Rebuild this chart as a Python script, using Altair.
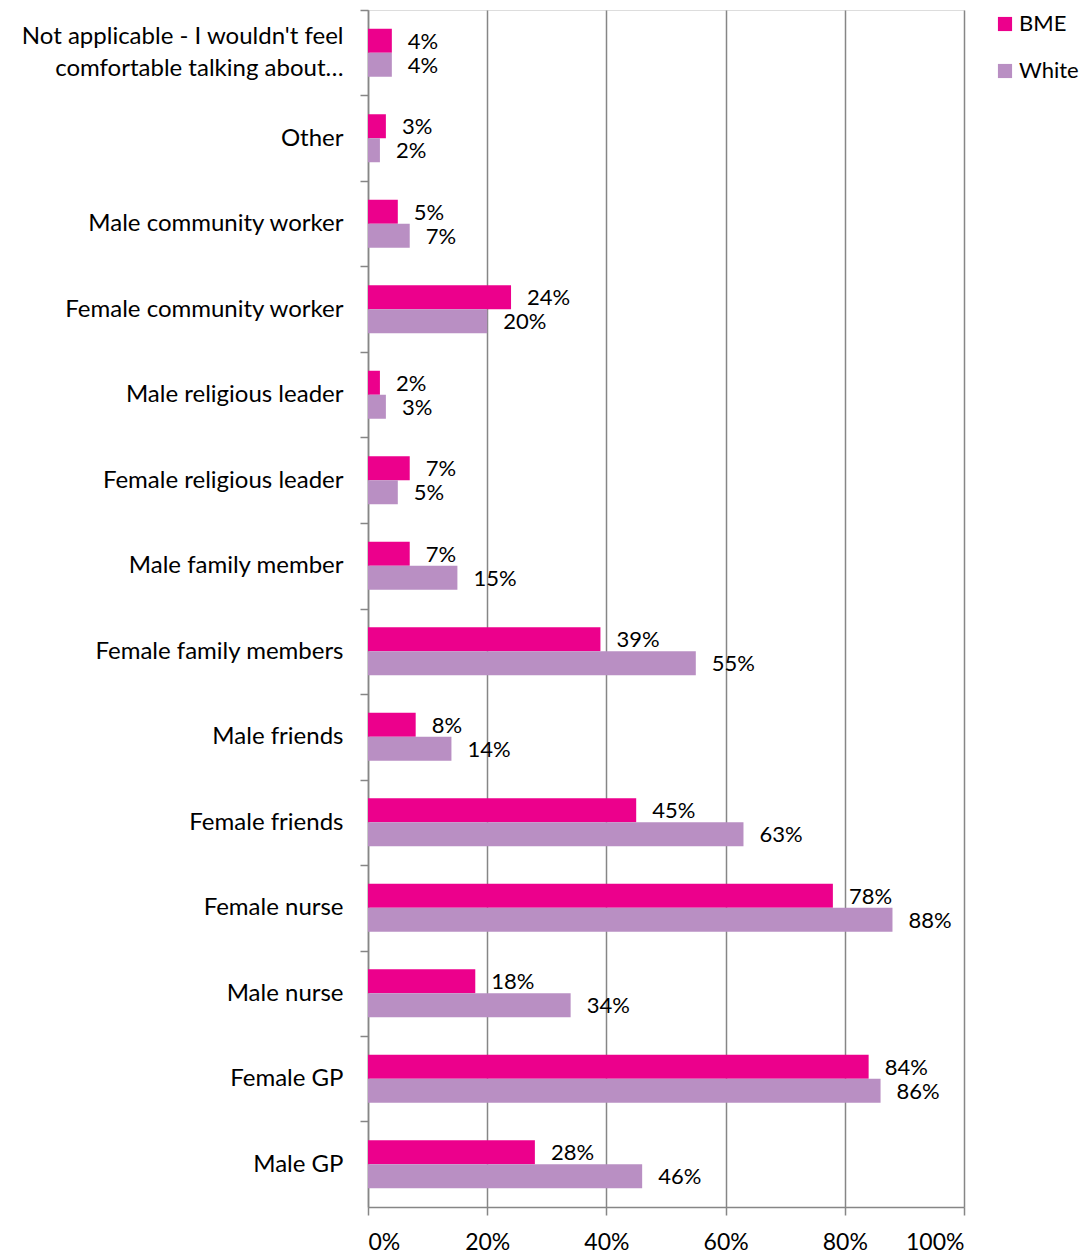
import altair as alt
import pandas as pd

categories = [
    "Not applicable - I wouldn't feel|comfortable talking about…",
    "Other",
    "Male community worker",
    "Female community worker",
    "Male religious leader",
    "Female religious leader",
    "Male family member",
    "Female family members",
    "Male friends",
    "Female friends",
    "Female nurse",
    "Male nurse",
    "Female GP",
    "Male GP",
]
bme = [4, 3, 5, 24, 2, 7, 7, 39, 8, 45, 78, 18, 84, 28]
white = [4, 2, 7, 20, 3, 5, 15, 55, 14, 63, 88, 34, 86, 46]
series = ["BME", "White"]
colors = ["#EC008C", "#B98FC3"]

rows = []
for c, b, w in zip(categories, bme, white):
    rows.append({"cat": c, "group": "BME", "value": b})
    rows.append({"cat": c, "group": "White", "value": w})
df = pd.DataFrame(rows)

FONT = "Lato"
step = 1197 / 14

y_enc = alt.Y(
    "cat:N",
    sort=categories,
    scale=alt.Scale(paddingInner=0.4386, paddingOuter=0.2193),
    axis=alt.Axis(
        title=None,
        labelExpr="split(datum.label, '|')",
        labelFontSize=24,
        labelFont=FONT,
        labelColor="#000000",
        labelPadding=17,
        labelLimit=400,
        labelLineHeight=32,
        tickOffset=-step / 2,
        labelOffset={
            "condition": {"test": "indexof(datum.label, '|') >= 0", "value": step / 2 - 16},
            "value": step / 2,
        },
        tickSize=8,
        tickColor="#868686",
        domainColor="#868686",
        domainWidth=1.5,
        tickWidth=1.5,
        grid=False,
    ),
)

x_enc = alt.X(
    "value:Q",
    scale=alt.Scale(domain=[0, 100], nice=False),
    axis=alt.Axis(
        title=None,
        values=[0, 20, 40, 60, 80, 100],
        labelExpr="datum.value + '%'",
        labelFontSize=23,
        labelFont=FONT,
        labelColor="#000000",
        labelPadding=16,
        tickSize=8,
        tickColor="#868686",
        domainColor="#868686",
        domainWidth=1.5,
        tickWidth=1.5,
        grid=True,
        gridColor="#868686",
        gridWidth=1.5,
    ),
)

color_enc = alt.Color(
    "group:N",
    scale=alt.Scale(domain=series, range=colors),
    legend=alt.Legend(
        title=None,
        orient="none",
        legendX=626,
        legendY=3,
        symbolType="square",
        symbolSize=200,
        symbolStrokeWidth=0,
        labelFontSize=22,
        labelFont=FONT,
        labelColor="#000000",
        rowPadding=25,
        labelOffset=3,
    ),
)

base = alt.Chart(df).encode(
    y=y_enc,
    yOffset=alt.YOffset("group:N", sort=series),
)

bars = base.mark_bar(cornerRadius=0).encode(x=x_enc, color=color_enc)

labels = base.transform_calculate(lab="datum.value + '%'").mark_text(
    align="left", baseline="middle", dx=16, dy=1, fontSize=22, font=FONT, color="#000000"
).encode(x=alt.X("value:Q"), text="lab:N")

chart = (
    alt.layer(bars, labels)
    .properties(
        width=596,
        height=1197,
        autosize=alt.AutoSizeParams(type="none"),
        padding={"left": 360, "top": 2, "right": 115, "bottom": 48},
    )
    .configure_view(stroke=None)
    .configure(background="white")
)

chart.save("out.html", embed_options={"renderer": "svg", "actions": False})
